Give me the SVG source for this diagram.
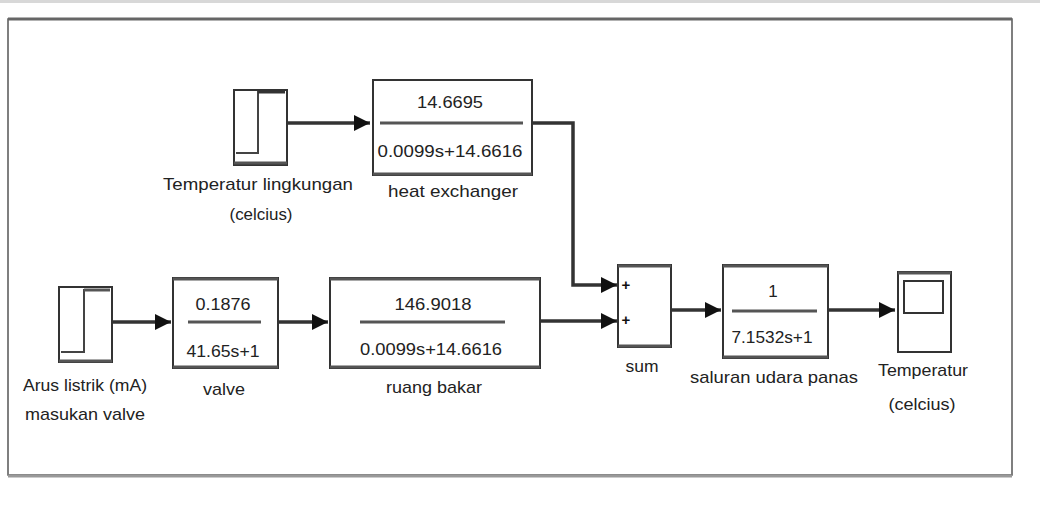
<svg xmlns="http://www.w3.org/2000/svg" width="1040" height="506" viewBox="0 0 1040 506">
<style>
.t{font-family:"Liberation Sans",Arial,sans-serif;font-size:17px;fill:#222;text-anchor:middle}
.blk{fill:#fff;stroke:#333;stroke-width:2}
.sh{stroke:#555;stroke-width:3;fill:none}
.c{fill:none;stroke:#333;stroke-width:3.5}
.in{fill:none;stroke:#444;stroke-width:2}
.pl{font-family:"Liberation Sans",Arial,sans-serif;font-size:15px;font-weight:bold;fill:#111;text-anchor:middle}
</style>
<defs>
<marker id="ah" markerUnits="userSpaceOnUse" markerWidth="18" markerHeight="18" refX="16" refY="8" orient="auto">
<path d="M0,0 L16,8 L0,16 Z" fill="#111"/>
</marker>
</defs>
<rect width="1040" height="506" fill="#fff"/>
<line x1="0" y1="1.5" x2="1040" y2="1.5" stroke="#d8d8d8" stroke-width="3"/>
<g id="frame">
<rect x="8" y="19" width="1004" height="456" fill="#fff" stroke="#555" stroke-width="1.5"/>
<line x1="8" y1="19" x2="1012" y2="19" stroke="#666" stroke-width="3"/>
<line x1="8" y1="476" x2="1012" y2="476" stroke="#999" stroke-width="3"/>
</g>
<g id="connectors">
<path class="c" d="M287,123 H370" marker-end="url(#ah)"/>
<path class="c" d="M532,123 H573 V285 H617" marker-end="url(#ah)"/>
<path class="c" d="M112,322 H171" marker-end="url(#ah)"/>
<path class="c" d="M278,322 H328" marker-end="url(#ah)"/>
<path class="c" d="M540,321 H617" marker-end="url(#ah)"/>
<path class="c" d="M671,310 H721" marker-end="url(#ah)"/>
<path class="c" d="M828,310 H895" marker-end="url(#ah)"/>
</g>
<g id="temp-lingkungan">
<rect class="blk" x="234" y="90" width="53" height="75"/>
<line class="sh" x1="234" y1="163" x2="287" y2="163"/>
<path class="in" d="M236,153 H258 V92 H285"/>
<line x1="258" y1="92" x2="285" y2="92" stroke="#333" stroke-width="3"/>
<text class="t" x="258" y="190" textLength="190" lengthAdjust="spacingAndGlyphs">Temperatur lingkungan</text>
<text class="t" x="261" y="220" textLength="63" lengthAdjust="spacingAndGlyphs">(celcius)</text>
</g>
<g id="heat-exchanger">
<rect class="blk" x="373" y="80" width="159" height="95"/>
<line class="sh" x1="373" y1="174" x2="532" y2="174"/>
<text class="t" x="450" y="108" textLength="66" lengthAdjust="spacingAndGlyphs">14.6695</text>
<line x1="380" y1="123" x2="523" y2="123" stroke="#555" stroke-width="3"/>
<text class="t" x="450" y="157" textLength="145" lengthAdjust="spacingAndGlyphs">0.0099s+14.6616</text>
<text class="t" x="453" y="197" textLength="130" lengthAdjust="spacingAndGlyphs">heat exchanger</text>
</g>
<g id="arus-listrik">
<rect class="blk" x="59" y="287" width="53" height="75"/>
<line class="sh" x1="59" y1="361" x2="112" y2="361"/>
<path class="in" d="M61,352 H84 V290 H110"/>
<line x1="84" y1="290" x2="110" y2="290" stroke="#555" stroke-width="3"/>
<text class="t" x="85" y="391" textLength="124" lengthAdjust="spacingAndGlyphs">Arus listrik (mA)</text>
<text class="t" x="85" y="420" textLength="120" lengthAdjust="spacingAndGlyphs">masukan valve</text>
</g>
<g id="valve">
<rect class="blk" x="173" y="278" width="105" height="90"/>
<line class="sh" x1="173" y1="279" x2="278" y2="279"/>
<line class="sh" x1="173" y1="367" x2="278" y2="367"/>
<text class="t" x="223" y="310" textLength="55" lengthAdjust="spacingAndGlyphs">0.1876</text>
<line x1="188" y1="322" x2="261" y2="322" stroke="#555" stroke-width="3"/>
<text class="t" x="223" y="357" textLength="73" lengthAdjust="spacingAndGlyphs">41.65s+1</text>
<text class="t" x="224" y="395" textLength="42" lengthAdjust="spacingAndGlyphs">valve</text>
</g>
<g id="ruang-bakar">
<rect class="blk" x="330" y="278" width="210" height="90"/>
<line class="sh" x1="330" y1="279" x2="540" y2="279"/>
<line class="sh" x1="330" y1="367" x2="540" y2="367"/>
<text class="t" x="433" y="310" textLength="77" lengthAdjust="spacingAndGlyphs">146.9018</text>
<line x1="360" y1="322" x2="505" y2="322" stroke="#555" stroke-width="3"/>
<text class="t" x="431" y="355" textLength="142" lengthAdjust="spacingAndGlyphs">0.0099s+14.6616</text>
<text class="t" x="434" y="393" textLength="96" lengthAdjust="spacingAndGlyphs">ruang bakar</text>
</g>
<g id="sum">
<rect class="blk" x="618" y="265" width="53" height="82"/>
<line class="sh" x1="618" y1="266" x2="671" y2="266"/>
<line class="sh" x1="618" y1="346" x2="671" y2="346"/>
<text class="pl" x="626" y="290">+</text>
<text class="pl" x="626" y="325">+</text>
<text class="t" x="642" y="372" textLength="33" lengthAdjust="spacingAndGlyphs">sum</text>
</g>
<g id="saluran">
<rect class="blk" x="723" y="265" width="105" height="93"/>
<line class="sh" x1="723" y1="266" x2="828" y2="266"/>
<line class="sh" x1="723" y1="357" x2="828" y2="357"/>
<text class="t" x="773" y="297">1</text>
<line x1="732" y1="311" x2="817" y2="311" stroke="#555" stroke-width="3"/>
<text class="t" x="772" y="343" textLength="81" lengthAdjust="spacingAndGlyphs">7.1532s+1</text>
<text class="t" x="774" y="383" textLength="168" lengthAdjust="spacingAndGlyphs">saluran udara panas</text>
</g>
<g id="scope">
<rect class="blk" x="898" y="272" width="53" height="80"/>
<line class="sh" x1="898" y1="273" x2="951" y2="273"/>
<rect x="904" y="281" width="39" height="32" fill="#fff" stroke="#333" stroke-width="2"/>
<text class="t" x="923" y="376" textLength="90" lengthAdjust="spacingAndGlyphs">Temperatur</text>
<text class="t" x="922" y="410" textLength="67" lengthAdjust="spacingAndGlyphs">(celcius)</text>
</g>
</svg>
